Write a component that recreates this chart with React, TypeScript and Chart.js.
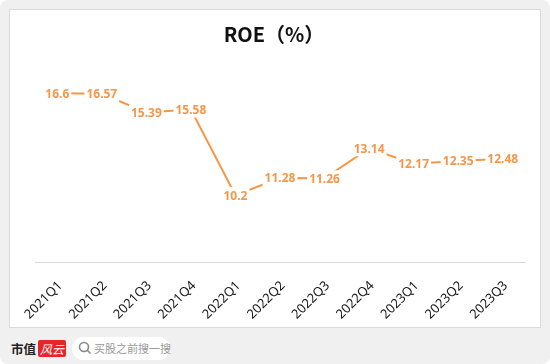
import React, { useEffect, useRef } from "react";
import { Chart, registerables } from "chart.js";

Chart.register(...registerables);

const categories = [
  "2021Q1", "2021Q2", "2021Q3", "2021Q4", "2022Q1", "2022Q2",
  "2022Q3", "2022Q4", "2023Q1", "2023Q2", "2023Q3",
];
const roeValues = [16.6, 16.57, 15.39, 15.58, 10.2, 11.28, 11.26, 13.14, 12.17, 12.35, 12.48];
const valueLabels = ["16.6", "16.57", "15.39", "15.58", "10.2", "11.28", "11.26", "13.14", "12.17", "12.35", "12.48"];
const yMin = 6;
const yMax = 18;

const ORANGE = "#F79646";

const labelPlugin = {
  id: "centerLabels",
  afterDatasetsDraw(chart: any) {
    const ctx = chart.ctx;
    const meta = chart.getDatasetMeta(0);
    ctx.save();
    ctx.font = "bold 12px 'Noto Sans', sans-serif";
    ctx.textAlign = "center";
    ctx.textBaseline = "middle";
    meta.data.forEach((pt: any, i: number) => {
      const txt = valueLabels[i];
      const w = ctx.measureText(txt).width;
      ctx.fillStyle = "#ffffff";
      ctx.fillRect(pt.x - w / 2 - 2, pt.y - 8, w + 4, 16);
      ctx.fillStyle = ORANGE;
      ctx.fillText(txt, pt.x, pt.y + 1);
    });
    ctx.restore();
  },
};

export default function App() {
  const ref = useRef<HTMLCanvasElement | null>(null);
  useEffect(() => {
    document.body.style.margin = "0";
    if (!ref.current) return;
    const chart = new Chart(ref.current, {
      type: "line",
      data: {
        labels: categories,
        datasets: [
          {
            data: roeValues,
            borderColor: ORANGE,
            borderWidth: 2,
            pointRadius: 0,
            tension: 0,
            fill: false,
          },
        ],
      },
      options: {
        responsive: false,
        animation: false,
        layout: { padding: { left: 25, right: 15, top: 61, bottom: 0 } },
        plugins: { legend: { display: false }, tooltip: { enabled: false }, title: { display: false } },
        scales: {
          x: {
            offset: true,
            grid: { display: false, drawTicks: false },
            border: { display: true, color: "#d9d9d9", width: 1 },
            ticks: {
              color: "#1a1a1a",
              font: { size: 13, family: "'Noto Sans', sans-serif" },
              maxRotation: 45,
              minRotation: 45,
              padding: 16,
              labelOffset: 3,
              autoSkip: false,
            },
            afterFit: (scale: any) => {
              scale.height = 65;
              scale.paddingLeft = 0;
              scale.paddingRight = 0;
            },
          },
          y: {
            display: false,
            min: yMin,
            max: yMax,
          },
        },
      },
      plugins: [labelPlugin],
    });
    return () => chart.destroy();
  }, []);

  return (
    <div
      style={{
        position: "absolute",
        left: 0,
        top: 0,
        width: 550,
        height: 364,
        background: "#f0f0f0",
        borderRadius: 8,
        overflow: "hidden",
        fontFamily: "'Noto Sans CJK SC', sans-serif",
      }}
    >
      <div
        style={{
          position: "absolute",
          left: 9,
          top: 9,
          width: 530,
          height: 317,
          background: "#fff",
          border: "1px solid #dadada",
        }}
      />
      <canvas
        ref={ref}
        width={530}
        height={317}
        style={{ position: "absolute", left: 10, top: 10, width: 530, height: 317 }}
      />
      <div
        style={{
          position: "absolute",
          left: 0,
          width: 548,
          top: 20,
          textAlign: "center",
          fontSize: 20,
          fontWeight: 700,
          color: "#111",
          lineHeight: "28px",
        }}
      >
        ROE（%）
      </div>
      <div
        style={{
          position: "absolute",
          left: 11,
          top: 340,
          fontSize: 12.5,
          fontWeight: 700,
          color: "#222",
          lineHeight: "18px",
        }}
      >
        市值
      </div>
      <div
        style={{
          position: "absolute",
          left: 38,
          top: 340,
          width: 28,
          height: 17,
          background: "#e8262a",
          borderRadius: 2,
          color: "#fff",
          fontSize: 12,
          fontStyle: "italic",
          lineHeight: "17px",
          textAlign: "center",
        }}
      >
        风云
      </div>
      <div
        style={{
          position: "absolute",
          left: 72,
          top: 337,
          width: 98,
          height: 23,
          background: "#fff",
          borderRadius: 12,
        }}
      >
        <svg width="14" height="14" style={{ position: "absolute", left: 6, top: 4 }}>
          <circle cx="6" cy="6" r="4.5" stroke="#888" strokeWidth="1.6" fill="none" />
          <line x1="9.3" y1="9.3" x2="12.5" y2="12.5" stroke="#888" strokeWidth="1.6" />
        </svg>
        <div
          style={{
            position: "absolute",
            left: 22,
            top: 0,
            fontSize: 11,
            color: "#999",
            lineHeight: "23px",
            whiteSpace: "nowrap",
          }}
        >
          买股之前搜一搜
        </div>
      </div>
    </div>
  );
}
